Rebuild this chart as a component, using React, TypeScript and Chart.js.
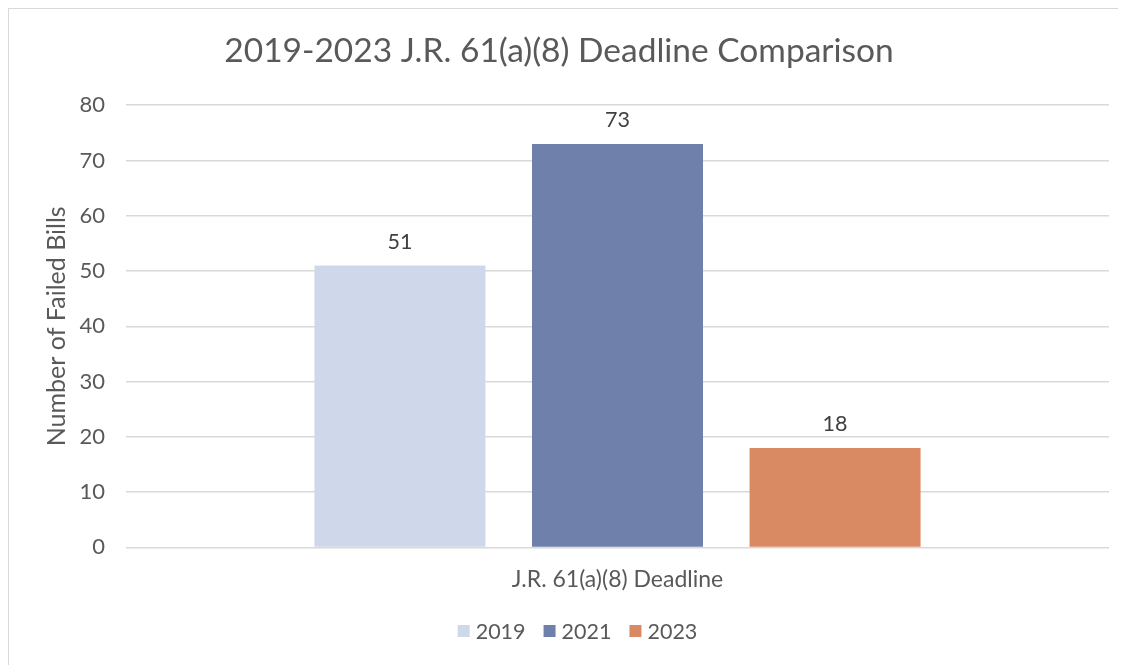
import React, { useEffect, useRef } from "react";
import { Chart, registerables } from "chart.js";

Chart.register(...registerables);

const categories = ["J.R. 61(a)(8) Deadline"];
const seriesNames = ["2019", "2021", "2023"];
const values2019 = [51];
const values2021 = [73];
const values2023 = [18];
const colors = ["#cfd7ea", "#6f80ab", "#d98a62"];
const yTicks = [0, 10, 20, 30, 40, 50, 60, 70, 80];

const FONT = "Lato, 'Open Sans', sans-serif";

const valueLabels = {
  id: "valueLabels",
  afterDatasetsDraw(chart: any) {
    const ctx = chart.ctx;
    ctx.save();
    ctx.font = `21.5px ${FONT}`;
    ctx.fillStyle = "#404040";
    ctx.textAlign = "center";
    ctx.textBaseline = "bottom";
    chart.data.datasets.forEach((ds: any, i: number) => {
      const meta = chart.getDatasetMeta(i);
      meta.data.forEach((bar: any, j: number) => {
        ctx.fillText(String(ds.data[j]), bar.x, bar.y - 13);
      });
    });
    ctx.restore();
  },
};

// Compact bottom legend (Excel-style spacing)
const compactLegend = {
  id: "compactLegend",
  afterDraw(chart: any) {
    const ctx = chart.ctx;
    ctx.save();
    ctx.font = `21.5px ${FONT}`;
    ctx.textBaseline = "middle";
    ctx.textAlign = "left";
    const box = 12;
    const gapBoxText = 6;
    const gapItems = 18;
    const items = chart.data.datasets.map((ds: any) => ({
      label: ds.label,
      color: ds.backgroundColor,
      w: ctx.measureText(ds.label).width,
    }));
    const total =
      items.reduce((s: number, it: any) => s + box + gapBoxText + it.w, 0) +
      gapItems * (items.length - 1);
    let x = chart.width / 2 + 10 - total / 2;
    const y = chart.height - 34;
    items.forEach((it: any) => {
      ctx.fillStyle = it.color;
      ctx.fillRect(x, y - box / 2, box, box);
      x += box + gapBoxText;
      ctx.fillStyle = "#595959";
      ctx.fillText(it.label, x, y + 1);
      x += it.w + gapItems;
    });
    ctx.restore();
  },
};

export default function App() {
  const ref = useRef<HTMLCanvasElement>(null);
  useEffect(() => {
    const chart = new Chart(ref.current!, {
      type: "bar",
      data: {
        labels: categories,
        datasets: [values2019, values2021, values2023].map((d, i) => ({
          label: seriesNames[i],
          data: d,
          backgroundColor: colors[i],
          borderWidth: 0,
          categoryPercentage: 0.664,
          barPercentage: 0.786,
        })),
      },
      options: {
        animation: false,
        responsive: false,
        maintainAspectRatio: false,
        layout: { padding: { left: 0, right: 17, top: 0, bottom: 62 } },
        plugins: {
          tooltip: { enabled: false },
          title: {
            display: true,
            text: "2019-2023 J.R. 61(a)(8) Deadline Comparison",
            color: "#595959",
            font: { family: FONT, size: 33.5, weight: "normal" },
            padding: { top: 22, bottom: 34 },
          },
          legend: { display: false },
        },
        scales: {
          x: {
            grid: { display: false },
            border: { display: false },
            ticks: { color: "#595959", font: { family: FONT, size: 23 }, padding: 10 },
          },
          y: {
            min: 0,
            max: 80,
            afterBuildTicks: (scale: any) => {
              scale.ticks = yTicks.map((v) => ({ value: v }));
            },
            afterFit: (scale: any) => {
              scale.width = 117;
            },
            grid: { color: "#d9d9d9", lineWidth: 1.5, drawTicks: false },
            border: { display: false },
            ticks: { color: "#595959", font: { family: FONT, size: 22 }, padding: 21 },
            title: {
              display: true,
              text: "Number of Failed Bills",
              color: "#595959",
              font: { family: FONT, size: 25, weight: "normal" },
              padding: { top: 33, bottom: 0 },
            },
          },
        },
      },
      plugins: [valueLabels, compactLegend],
    });
    return () => chart.destroy();
  }, []);
  return (
    <div
      style={{
        width: 1118,
        height: 657,
        boxSizing: "border-box",
        borderLeft: "1px solid #d9d9d9",
        borderTop: "1px solid #d9d9d9",
        background: "#fff",
      }}
    >
      <canvas ref={ref} width={1117} height={656} style={{ display: "block" }} />
    </div>
  );
}
